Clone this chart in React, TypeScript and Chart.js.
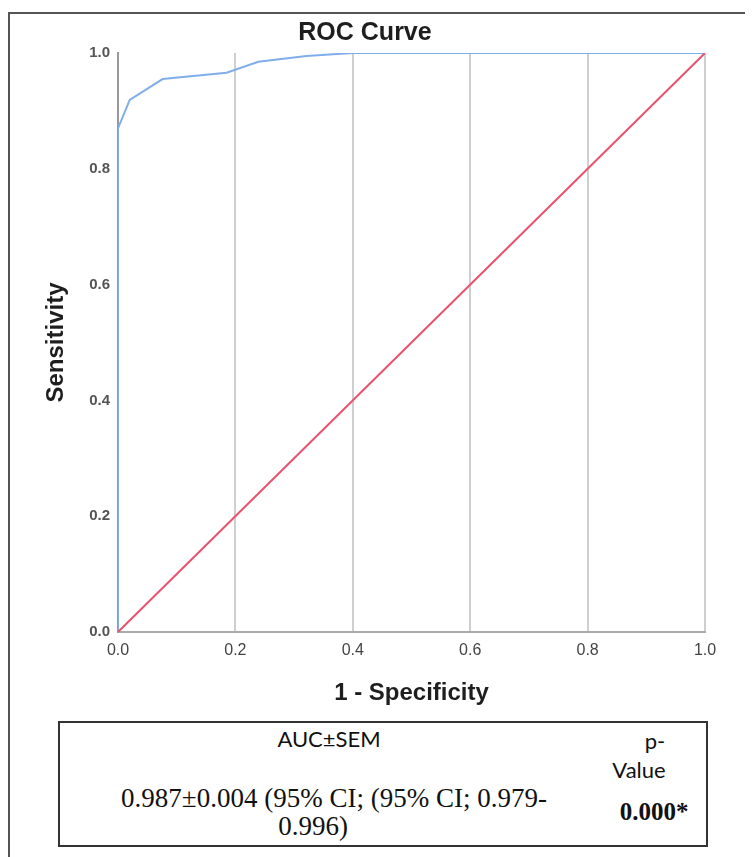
import React, { useEffect, useRef } from "react";
import { Chart, registerables } from "chart.js";

Chart.register(...registerables);

// ROC curve points (1 - specificity, sensitivity)
const rocFpr = [0, 0, 0.02, 0.076, 0.185, 0.239, 0.321, 0.4, 1.0];
const rocTpr = [0, 0.87, 0.919, 0.955, 0.966, 0.985, 0.995, 1.0, 1.0];
// reference diagonal
const refX = [0, 1];
const refY = [0, 1];

const chartTitle = "ROC Curve";
const xTitle = "1 - Specificity";
const yTitle = "Sensitivity";

const tableHeadAuc = "AUC±SEM";
const tableHeadP1 = "p-";
const tableHeadP2 = "Value";
const tableAucLine1 = "0.987±0.004 (95% CI; (95% CI; 0.979-";
const tableAucLine2 = "0.996)";
const tablePValue = "0.000*";

const SANS = "'Liberation Sans', Arial, sans-serif";
const NARROW = "'Liberation Sans Narrow', 'Liberation Sans', Arial, sans-serif";

function Txt(props: { x: number; y: number; children: React.ReactNode; style?: React.CSSProperties }) {
  return (
    <div
      style={{
        position: "absolute",
        left: props.x,
        top: props.y,
        transform: "translate(-50%, -50%)",
        whiteSpace: "nowrap",
        lineHeight: 1,
        ...props.style,
      }}
    >
      {props.children}
    </div>
  );
}

export default function App() {
  const canvasRef = useRef<HTMLCanvasElement | null>(null);

  useEffect(() => {
    if (!canvasRef.current) return;
    const chart = new Chart(canvasRef.current, {
      type: "line",
      data: {
        datasets: [
          {
            label: "Reference",
            data: refX.map((x, i) => ({ x, y: refY[i] })),
            borderColor: "#e9536f",
            borderWidth: 2,
            pointRadius: 0,
            tension: 0,
          },
          {
            label: "ROC",
            data: rocFpr.map((x, i) => ({ x, y: rocTpr[i] })),
            borderColor: "#80aeea",
            borderWidth: 2,
            pointRadius: 0,
            tension: 0,
          },
        ],
      },
      options: {
        animation: false,
        responsive: false,
        maintainAspectRatio: false,
        layout: { padding: { left: 17, right: 48, top: 0, bottom: 0 } },
        plugins: {
          legend: { display: false },
          tooltip: { enabled: false },
          title: {
            display: true,
            text: chartTitle,
            color: "#1e1e1e",
            font: { family: SANS, size: 25, weight: "bold", lineHeight: 1.2 },
            padding: { top: 10.5, bottom: 4.5 },
          },
        },
        scales: {
          x: {
            type: "linear",
            min: 0,
            max: 1,
            afterFit: (s: any) => {
              s.height = 88;
            },
            ticks: {
              stepSize: 0.2,
              padding: 9.4,
              color: "#444",
              font: { family: NARROW, size: 16 },
              callback: (v: any) => Number(v).toFixed(1),
            },
            grid: { display: true, color: "#cfcfcf", lineWidth: 2, drawTicks: false },
            border: { display: true, color: "#aaaaaa", width: 2 },
            title: {
              display: true,
              text: xTitle,
              color: "#1e1e1e",
              font: { family: SANS, size: 24, weight: "bold", lineHeight: 1.2 },
              padding: { top: 0, bottom: 12.6 },
            },
          },
          y: {
            type: "linear",
            min: 0,
            max: 1,
            afterFit: (s: any) => {
              s.width = 93;
            },
            ticks: {
              stepSize: 0.2,
              padding: 8,
              color: "#555",
              font: { family: SANS, size: 15, weight: "bold" },
              callback: (v: any) => Number(v).toFixed(1),
            },
            grid: { display: false, drawTicks: false },
            border: { display: true, color: "#999999", width: 2 },
            title: {
              display: true,
              text: yTitle,
              color: "#1e1e1e",
              font: { family: SANS, size: 24, weight: "bold", lineHeight: 1.2 },
              padding: { top: 16.6, bottom: 0 },
            },
          },
        },
      },
    });
    return () => chart.destroy();
  }, []);

  const sans2 = "Lato, 'Open Sans', sans-serif";
  const serif = "'Liberation Serif', 'Times New Roman', serif";

  return (
    <div style={{ position: "relative", width: 745, height: 849, overflow: "hidden" }}>
      <div
        style={{
          position: "absolute",
          left: 0,
          top: 4,
          width: 900,
          height: 1000,
          borderLeft: "2px solid #555",
          borderTop: "2px solid #555",
          boxSizing: "border-box",
        }}
      />
      <canvas
        ref={canvasRef}
        width={745}
        height={712}
        style={{ position: "absolute", left: 0, top: 0, width: 745, height: 712 }}
      />
      <div
        style={{
          position: "absolute",
          left: 50,
          top: 713,
          width: 650,
          height: 126,
          border: "2px solid #333",
          boxSizing: "border-box",
        }}
      />
      <Txt x={321} y={731} style={{ fontFamily: sans2, fontSize: 22, color: "#111" }}>
        {tableHeadAuc}
      </Txt>
      <Txt x={647} y={733} style={{ fontFamily: sans2, fontSize: 22, color: "#111" }}>
        {tableHeadP1}
      </Txt>
      <Txt x={631} y={762} style={{ fontFamily: sans2, fontSize: 22, color: "#111" }}>
        {tableHeadP2}
      </Txt>
      <Txt x={326} y={790} style={{ fontFamily: serif, fontSize: 27, color: "#111" }}>
        {tableAucLine1}
      </Txt>
      <Txt x={305} y={818} style={{ fontFamily: serif, fontSize: 27, color: "#111" }}>
        {tableAucLine2}
      </Txt>
      <Txt x={646} y={803} style={{ fontFamily: serif, fontSize: 25, fontWeight: "bold", color: "#111" }}>
        {tablePValue}
      </Txt>
    </div>
  );
}
